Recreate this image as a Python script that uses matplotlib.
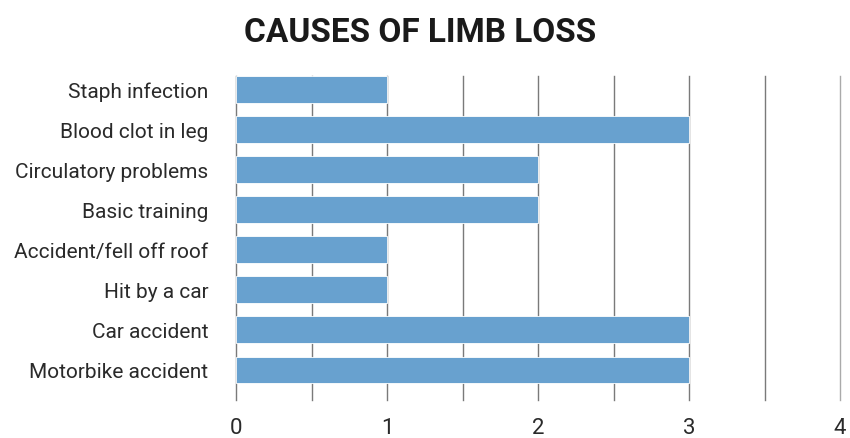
import matplotlib.pyplot as plt
import numpy as np

causes = ["Staph infection", "Blood clot in leg", "Circulatory problems", "Basic training",
          "Accident/fell off roof", "Hit by a car", "Car accident", "Motorbike accident"]
counts = [1, 3, 2, 2, 1, 1, 3, 3]

plt.rcParams['font.family'] = ['Roboto', 'DejaVu Sans']

fig = plt.figure(figsize=(8.5, 4.39), dpi=100)
# axes spans the grid area: x 236..840 px, y 77..401 px
ax = fig.add_axes([236 / 850, 1 - 401 / 439, 604 / 850, 324 / 439])

y = np.arange(len(causes))
ax.barh(y, counts, height=0.667, color='#68a1cf', edgecolor='white', linewidth=0.6, zorder=3)
ax.set_ylim(7.75, -0.333)
ax.set_xlim(0, 4)

for gx in np.arange(0, 4.01, 0.5):
    ax.axvline(gx, color='#7a7a7a' if gx < 4 else '#aaaaaa', linewidth=1, zorder=1, clip_on=False)

ax.set_xticks([0, 1, 2, 3, 4])
ax.set_xticklabels(['0', '1', '2', '3', '4'], fontsize=16, color='#2a2a2a')
ax.set_yticks(y)
ax.set_yticklabels(causes, fontsize=15, color='#2a2a2a')
ax.tick_params(length=0, pad=12, axis='x')
ax.tick_params(length=0, pad=20, axis='y')
for s in ax.spines.values():
    s.set_visible(False)

fig.text(0.494, 0.925, "CAUSES OF LIMB LOSS", ha='center', va='center',
         fontsize=24, fontweight='bold', color='#1a1a1a')

fig.savefig('out.png', dpi=100)
